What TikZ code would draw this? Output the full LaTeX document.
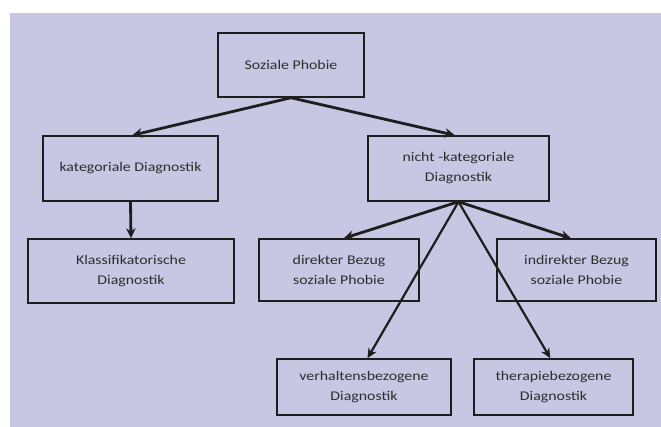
\documentclass[tikz,border=0pt]{standalone}
\usepackage{fontspec}
\setmainfont{Carlito}[FakeStretch=1.19]
\usetikzlibrary{arrows.meta,calc}
\definecolor{bglav}{RGB}{199,199,227}
\definecolor{ink}{RGB}{30,30,30}
\definecolor{txt}{RGB}{45,45,45}
\begin{document}
\begin{tikzpicture}[x=1pt,y=-1pt,
  box/.style={draw=ink,line width=1.5pt,rectangle,align=center,inner sep=0pt,
    font=\fontsize{13.3}{20}\selectfont,text=txt},
  conn/.style={draw=ink,line width=2.8pt,-{Stealth[length=10pt,width=9.5pt]}},
  connthin/.style={draw=ink,line width=2.2pt,-{Stealth[length=10pt,width=9pt]}}]
\useasboundingbox (0,0) rectangle (661,427);
\fill[white] (0,0) rectangle (661,427);
\fill[bglav] (10,13) rectangle (661,427);

\node[box,minimum width=146pt,minimum height=64pt] (soz) at (291,65) {Soziale Phobie};
\node[box,minimum width=175pt,minimum height=65pt] (kat) at (130.5,168.5) {kategoriale Diagnostik};
\node[box,minimum width=181pt,minimum height=65pt] (nkat) at (458.5,168.5) {nicht -kategoriale\\Diagnostik};
\node[box,minimum width=206pt,minimum height=64pt] (klass) at (131,271) {Klassifikatorische\\Diagnostik};
\node[box,minimum width=160pt,minimum height=62pt] (dir) at (339,270) {direkter Bezug\\soziale Phobie};
\node[box,minimum width=159pt,minimum height=62pt] (indir) at (576.5,270) {indirekter Bezug\\soziale Phobie};
\node[box,minimum width=174pt,minimum height=56pt] (verh) at (364,387) {verhaltensbezogene\\Diagnostik};
\node[box,minimum width=159pt,minimum height=56pt] (ther) at (553.5,387) {therapiebezogene\\Diagnostik};

\coordinate (katin) at ($(kat.north west)!0.51!(kat.north east)$);
\coordinate (nkatin) at ($(nkat.north west)!0.48!(nkat.north east)$);
\coordinate (dirin) at ($(dir.north west)!0.53!(dir.north east)$);
\coordinate (indirin) at ($(indir.north west)!0.465!(indir.north east)$);
\coordinate (verhin) at ($(verh.north west)!0.52!(verh.north east)$);
\coordinate (therin) at ($(ther.north west)!0.48!(ther.north east)$);

\draw[conn] (soz.south) -- (katin);
\draw[conn] (soz.south) -- (nkatin);
\draw[conn] (kat.south) -- (klass.north);
\draw[conn] (nkat.south) -- (dirin);
\draw[conn] (nkat.south) -- (indirin);
\draw[connthin] (nkat.south) -- (verhin);
\draw[connthin] (nkat.south) -- (therin);
\end{tikzpicture}
\end{document}
